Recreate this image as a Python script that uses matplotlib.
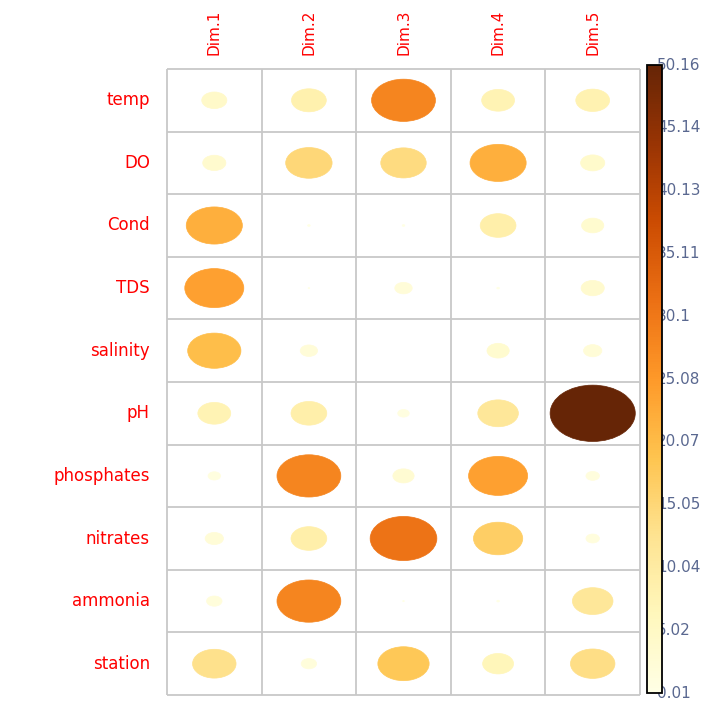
import numpy as np
import matplotlib
matplotlib.use('Agg')
import matplotlib.pyplot as plt
from matplotlib.patches import Ellipse
from matplotlib.colors import Normalize
from matplotlib.cm import ScalarMappable

# 变量贡献度 (PCA contrib)
variables = ['temp', 'DO', 'Cond', 'TDS', 'salinity', 'pH',
             'phosphates', 'nitrates', 'ammonia', 'station']
dims = ['Dim.1', 'Dim.2', 'Dim.3', 'Dim.4', 'Dim.5']

dim1 = [4.38, 3.73, 21.8, 24.1, 19.6, 7.49, 1.09, 2.34, 1.66, 13.1]
dim2 = [8.39, 14.9, 0.06, 0.03, 2.10, 8.87, 28.2, 8.87, 28.2, 1.66]
dim3 = [28.2, 14.3, 0.06, 2.10, 0.01, 0.93, 3.14, 30.8, 0.03, 18.2]
dim4 = [7.49, 21.8, 8.87, 0.06, 3.43, 11.4, 24.1, 16.8, 0.06, 6.63]
dim5 = [7.93, 4.05, 3.43, 3.73, 2.34, 50.16, 1.27, 1.27, 11.4, 13.7]

cbar_labels = ['0.01', '5.02', '10.04', '15.05', '20.07', '25.08',
               '30.1', '35.11', '40.13', '45.14', '50.16']

plt.rcParams['font.family'] = ['DejaVu Sans']

contrib = np.array([dim1, dim2, dim3, dim4, dim5]).T
vmin, vmax = 0.01, 50.16
cmap = plt.get_cmap('YlOrBr')
norm = Normalize(vmin=vmin, vmax=vmax)

W, H = 712, 706
fig = plt.figure(figsize=(W / 100, H / 100), dpi=100)
ax = fig.add_axes([167 / W, (H - 695) / H, (640 - 167) / W, (695 - 69) / H])
ax.set_xlim(0, len(dims))
ax.set_ylim(0, len(variables))
ax.axis('off')

n_rows = len(variables)
for i, var in enumerate(variables):
    yc = n_rows - i - 0.5
    for j in range(len(dims)):
        v = contrib[i, j]
        r = 0.9 * np.sqrt((v - vmin) / (vmax - vmin))
        col = cmap(norm(v))
        ax.add_patch(Ellipse((j + 0.5, yc), r, r, facecolor=col,
                             edgecolor=col, linewidth=0.5, zorder=2))
    ax.text(-0.18, yc, var, ha='right', va='center', color='red',
            fontsize=12, clip_on=False)

for j, d in enumerate(dims):
    ax.text(j + 0.5, n_rows + 0.22, d, rotation=90, ha='center', va='bottom',
            color='red', fontsize=11, clip_on=False)

# 网格
grid_col = '#c8c8c8'
ax.vlines(np.arange(len(dims) + 1), 0, n_rows, color=grid_col, linewidth=1.3, zorder=1, clip_on=False)
ax.hlines(np.arange(n_rows + 1), 0, len(dims), color=grid_col, linewidth=1.3, zorder=1, clip_on=False)

# 色条
cb_bottom, cb_top = 693, 65
cax = fig.add_axes([647 / W, (H - cb_bottom) / H, 15 / W, (cb_bottom - cb_top) / H])
sm = ScalarMappable(norm=norm, cmap=cmap)
cb = fig.colorbar(sm, cax=cax)
cb.set_ticks([])
cb.outline.set_edgecolor('black')
cb.outline.set_linewidth(1.3)

for lab in cbar_labels:
    frac = (float(lab) - vmin) / (vmax - vmin)
    ypix = cb_bottom - frac * (cb_bottom - cb_top)
    fig.text(657 / W, (H - ypix) / H, lab, ha='left', va='center',
             color='#5a6890', fontsize=11, zorder=-1)

plt.savefig('out.png', dpi=100)
